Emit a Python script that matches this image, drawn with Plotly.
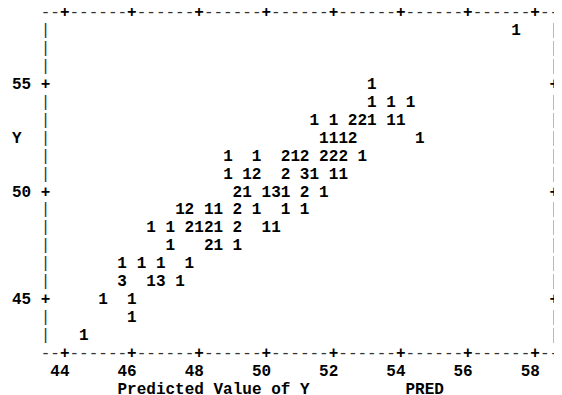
import plotly.graph_objects as go

# ---- data (PRED vs Y, symbol = count) ----
pred = [57.43,
        53.14,
        53.14, 53.71, 54.29,
        51.43, 52.00, 52.57, 52.86, 53.14, 53.71, 54.00,
        51.71, 52.00, 52.29, 52.57, 54.57,
        48.86, 49.71, 50.57, 50.86, 51.14, 51.71, 52.00, 52.29, 52.86,
        48.86, 49.43, 49.71, 50.57, 51.14, 51.43, 52.00, 52.29,
        49.14, 49.43, 50.00, 50.29, 50.57, 51.14, 51.71,
        47.43, 47.71, 48.29, 48.57, 49.14, 49.71, 50.57, 51.14,
        46.57, 47.14, 47.71, 48.00, 48.29, 48.57, 49.14, 50.00, 50.29,
        47.14, 48.29, 48.57, 49.14,
        45.71, 46.29, 46.86, 47.71,
        45.71, 46.57, 46.86, 47.43,
        45.14, 46.00,
        46.00,
        44.57]
yval = [57.50,
        55.00,
        54.17, 54.17, 54.17,
        53.33, 53.33, 53.33, 53.33, 53.33, 53.33, 53.33,
        52.50, 52.50, 52.50, 52.50, 52.50,
        51.67, 51.67, 51.67, 51.67, 51.67, 51.67, 51.67, 51.67, 51.67,
        50.83, 50.83, 50.83, 50.83, 50.83, 50.83, 50.83, 50.83,
        50.00, 50.00, 50.00, 50.00, 50.00, 50.00, 50.00,
        49.17, 49.17, 49.17, 49.17, 49.17, 49.17, 49.17, 49.17,
        48.33, 48.33, 48.33, 48.33, 48.33, 48.33, 48.33, 48.33, 48.33,
        47.50, 47.50, 47.50, 47.50,
        46.67, 46.67, 46.67, 46.67,
        45.83, 45.83, 45.83, 45.83,
        45.00, 45.00,
        44.17,
        43.33]
count = [1,
         1,
         1, 1, 1,
         1, 1, 2, 2, 1, 1, 1,
         1, 1, 1, 2, 1,
         1, 1, 2, 1, 2, 2, 2, 2, 1,
         1, 1, 2, 2, 3, 1, 1, 1,
         2, 1, 1, 3, 1, 2, 1,
         1, 2, 1, 1, 2, 1, 1, 1,
         1, 1, 2, 1, 2, 1, 2, 1, 1,
         1, 2, 1, 1,
         1, 1, 1, 1,
         3, 1, 3, 1,
         1, 1,
         1,
         1]

x_ticks = [44, 46, 48, 50, 52, 54, 56, 58]
y_ticks = [55, 50, 45]
x_title = "Predicted Value of Y"
x_var = "PRED"
y_title = "Y"

# ---- character grid of the printer plot ----
DX = 2.0 / 7.0      # PRED units per character column
DY = 5.0 / 6.0      # Y units per text row
X0, C0 = 44.0, 2    # column 2 holds the 44 tick
Y0, R0 = 55.0, 4    # row 4 holds the 55 tick
NCOL = 54
NROW = 20           # rows 0..19 (frame)


def px(c):
    return X0 + (c - C0) * DX


def py(r):
    return Y0 - (r - R0) * DY


FONT = "Liberation Mono"
SIZE = 16
tick_cols = [C0 + round((t - X0) / DX) for t in x_ticks]
tick_rows = [R0 + round((Y0 - t) / DY) for t in y_ticks]

fig = go.Figure()


def add_text(xs, ys, texts, color="black", weight="bold", pos="middle center"):
    fig.add_trace(go.Scatter(
        x=xs, y=ys, text=texts, mode="text", textposition=pos,
        textfont=dict(family=FONT, size=SIZE, color=color, weight=weight),
        hoverinfo="skip", showlegend=False, cliponaxis=False))


# horizontal frame lines (top and bottom), one character per grid cell
dash_cols = [c for c in range(NCOL) if c not in tick_cols]
for r in (0, NROW - 1):
    add_text([px(c) for c in dash_cols], [py(r)] * len(dash_cols),
             ["-"] * len(dash_cols), color="#333333", weight="normal")
    add_text([px(c) for c in tick_cols], [py(r)] * len(tick_cols),
             ["+"] * len(tick_cols))

# vertical frame lines
pipe_rows = [r for r in range(1, NROW - 1) if r not in tick_rows]
for c in (0, NCOL - 1):
    add_text([px(c)] * len(pipe_rows), [py(r) for r in pipe_rows],
             ["|"] * len(pipe_rows), color="#333333", weight="normal")
    add_text([px(c)] * len(tick_rows), [py(r) for r in tick_rows],
             ["+"] * len(tick_rows))

# y tick labels ("55 +")
add_text([px(-2) - DX / 2] * len(y_ticks), [py(r) for r in tick_rows],
         [str(t) for t in y_ticks])
# y title
add_text([px(-3)], [py(7)], [y_title])

# x tick labels (two digits at tick-1, tick)
add_text([px(c) - DX / 2 for c in tick_cols], [py(NROW)] * len(x_ticks),
         [str(t) for t in x_ticks])
# x title and variable name
add_text([px(8) - DX / 2], [py(NROW + 1)], [x_title], pos="middle right")
add_text([px(38) - DX / 2], [py(NROW + 1)], [x_var], pos="middle right")

# data symbols
add_text(pred, yval, [str(n) for n in count])

# The page body has an 8px margin, so the figure is 8px smaller each way
# and its own pixel origin sits 8px in from the window corner.
# Column c centre at window x 45.5 + 9.6c, row r centre at window y 13 + 17.95r
PAGE = 8
W, H = 562 - PAGE, 395 - PAGE
XC, YC = 45.5 - PAGE, 13.0 - PAGE
CW, RH = 9.6, 17.95
x_lo = px(-XC / CW)
x_hi = px((W - XC) / CW)
y_hi = py(-YC / RH)
y_lo = py((H - YC) / RH)

fig.update_layout(
    width=W, height=H,
    margin=dict(l=0, r=0, t=0, b=0),
    paper_bgcolor="white", plot_bgcolor="white",
    xaxis=dict(range=[x_lo, x_hi], visible=False, fixedrange=True),
    yaxis=dict(range=[y_lo, y_hi], visible=False, fixedrange=True),
)

fig.write_html("out.html")
